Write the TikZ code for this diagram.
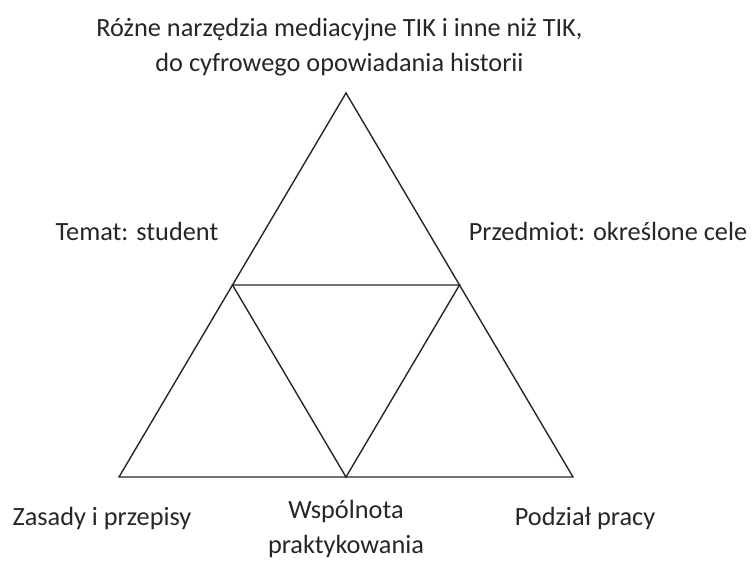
\documentclass[tikz,border=0pt]{standalone}
\usepackage{fontspec}
\setmainfont{Carlito}
\begin{document}
\begin{tikzpicture}[x=1pt,y=-1pt,
  edge/.style={draw=black!85, line width=1.4pt, line join=miter},
  lbl/.style={font=\fontsize{26.3}{35}\selectfont, text=black!85, inner sep=0pt, align=center}]
\useasboundingbox (0,0) rectangle (754,563);
% corners of the outer triangle and the midpoints of its sides
\coordinate (top) at (346,93);
\coordinate (bl) at (119,477);
\coordinate (br) at (573,477);
\coordinate (ml) at (232.5,285);
\coordinate (mr) at (459.5,285);
\coordinate (mb) at (346,477);
% outer triangle and inner triangle
\draw[edge] (top) -- (br) -- (bl) -- cycle;
\draw[edge] (ml) -- (mr) -- (mb) -- cycle;
% labels
\node[lbl] (tools) at (339.5,47) {Różne narzędzia mediacyjne TIK i inne niż TIK,\\do cyfrowego opowiadania historii};
\node[lbl] (subj) at (137,231) {Temat: student};
\node[lbl] (obj) at (608,231) {Przedmiot: określone cele};
\node[lbl] (rules) at (102,518) {Zasady i przepisy};
\node[lbl] (comm) at (346,529) {Wspólnota\\praktykowania};
\node[lbl] (div) at (585,518) {Podział pracy};
\end{tikzpicture}
\end{document}
